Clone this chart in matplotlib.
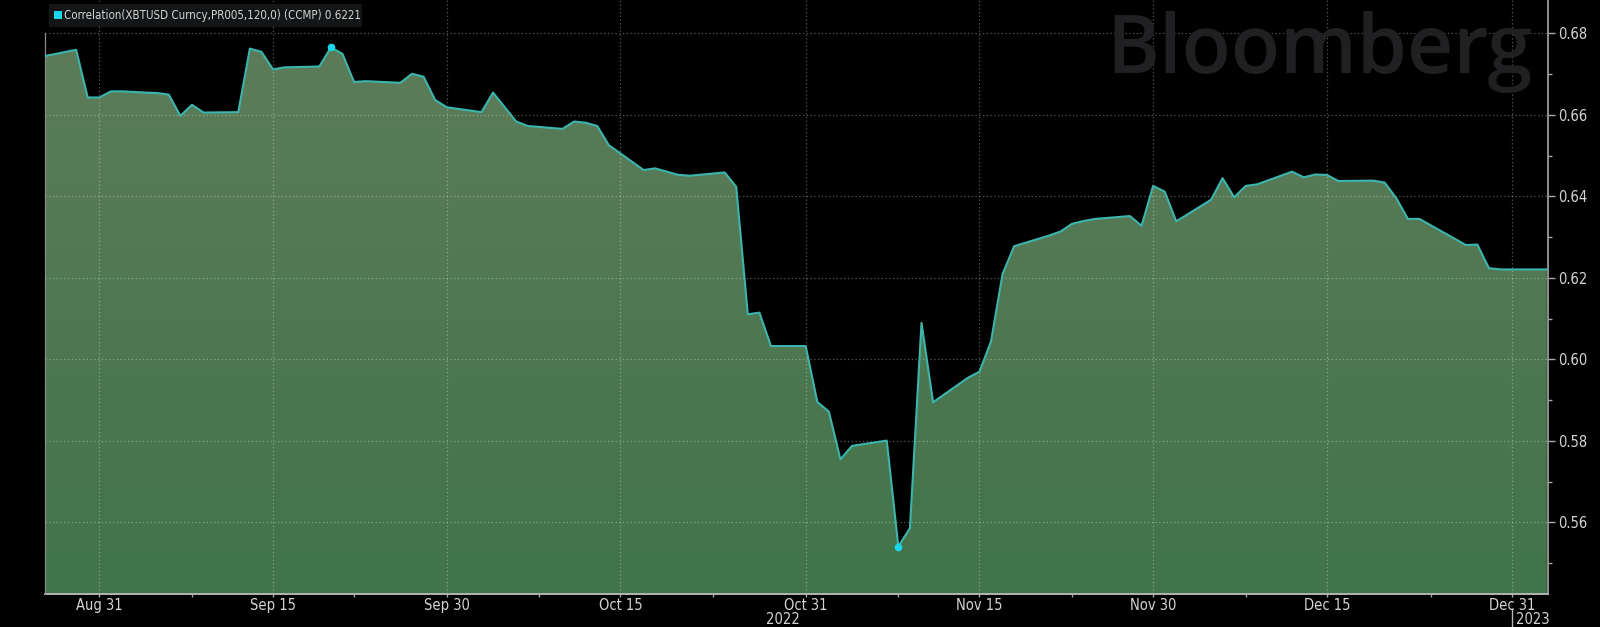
import matplotlib
matplotlib.use("Agg")
import matplotlib.pyplot as plt
import matplotlib.dates as mdates
import matplotlib.transforms as mtransforms
from matplotlib.patches import Rectangle
from matplotlib.colors import LinearSegmentedColormap
from matplotlib.ticker import MultipleLocator
import numpy as np
import pandas as pd

# ---------------- data ----------------
dates = [
    "2022-08-26", "2022-08-29", "2022-08-30", "2022-08-31", "2022-09-01", "2022-09-02",
    "2022-09-04", "2022-09-05", "2022-09-06", "2022-09-07", "2022-09-08", "2022-09-09",
    "2022-09-12", "2022-09-13", "2022-09-14", "2022-09-15", "2022-09-16", "2022-09-19",
    "2022-09-20", "2022-09-21", "2022-09-22", "2022-09-23", "2022-09-26", "2022-09-27",
    "2022-09-28", "2022-09-29", "2022-09-30", "2022-10-03", "2022-10-04", "2022-10-06",
    "2022-10-07", "2022-10-10", "2022-10-11", "2022-10-12", "2022-10-13", "2022-10-14",
    "2022-10-17", "2022-10-18", "2022-10-19", "2022-10-20", "2022-10-21", "2022-10-24",
    "2022-10-25", "2022-10-26", "2022-10-27", "2022-10-28", "2022-10-31", "2022-11-01",
    "2022-11-02", "2022-11-03", "2022-11-04", "2022-11-07", "2022-11-08", "2022-11-09",
    "2022-11-10", "2022-11-11", "2022-11-14", "2022-11-15", "2022-11-16", "2022-11-17",
    "2022-11-18", "2022-11-21", "2022-11-22", "2022-11-23", "2022-11-24", "2022-11-25",
    "2022-11-28", "2022-11-29", "2022-11-30", "2022-12-01", "2022-12-02", "2022-12-05",
    "2022-12-06", "2022-12-07", "2022-12-08", "2022-12-09", "2022-12-12", "2022-12-13",
    "2022-12-14", "2022-12-15", "2022-12-16", "2022-12-19", "2022-12-20", "2022-12-21",
    "2022-12-22", "2022-12-23", "2022-12-27", "2022-12-28", "2022-12-29", "2022-12-30",
    "2023-01-03",
]
values = [
    0.6743, 0.6760, 0.6643, 0.6643, 0.6658, 0.6658,
    0.6655, 0.6654, 0.6650, 0.6598, 0.6625, 0.6606,
    0.6607, 0.6763, 0.6755, 0.6712, 0.6717, 0.6719,
    0.6766, 0.6750, 0.6681, 0.6683, 0.6679, 0.6701,
    0.6694, 0.6637, 0.6619, 0.6607, 0.6655, 0.6584,
    0.6573, 0.6566, 0.6584, 0.6581, 0.6573, 0.6526,
    0.6465, 0.6469, 0.6461, 0.6453, 0.6451, 0.6459,
    0.6424, 0.6111, 0.6115, 0.6033, 0.6033, 0.5896,
    0.5872, 0.5755, 0.5788, 0.5801, 0.5541, 0.5586,
    0.6090, 0.5895, 0.5955, 0.5970, 0.6044, 0.6210,
    0.6278, 0.6304, 0.6314, 0.6333, 0.6340, 0.6345,
    0.6352, 0.6328, 0.6426, 0.6412, 0.6339, 0.6392,
    0.6445, 0.6398, 0.6426, 0.6430, 0.6461, 0.6447,
    0.6454, 0.6453, 0.6438, 0.6439, 0.6434, 0.6396,
    0.6345, 0.6345, 0.6281, 0.6282, 0.6224, 0.6221,
    0.6221,
]
tick_dates = ["2022-08-31", "2022-09-15", "2022-09-30", "2022-10-15", "2022-10-31",
              "2022-11-15", "2022-11-30", "2022-12-15", "2022-12-31"]
tick_labels = ["Aug 31", "Sep 15", "Sep 30", "Oct 15", "Oct 31",
               "Nov 15", "Nov 30", "Dec 15", "Dec 31"]
minor_tick_dates = ["2022-09-08", "2022-09-22", "2022-10-08", "2022-10-23",
                    "2022-11-08", "2022-11-23", "2022-12-08", "2022-12-24"]
y_ticks = [0.56, 0.58, 0.60, 0.62, 0.64, 0.66, 0.68]
year_labels = ["2022", "2023"]
year_label_dates = ["2022-10-29", "2023-01-02"]
legend_label = "Correlation(XBTUSD Curncy,PR005,120,0) (CCMP) 0.6221"
watermark = "Bloomberg"

# ---------------- style ----------------
W, H = 1600, 627
BG = "#000000"
LINE = "#3bb5ad"
MARK = "#19d6ec"
TXT = "#d4d4d4"
FONT = dict(family="DejaVu Sans", stretch="condensed")

fig = plt.figure(figsize=(W / 100, H / 100), dpi=100, facecolor=BG)
ax_l, ax_r, ax_b, ax_t = 45, 1548, 594, 0
ax = fig.add_axes([ax_l / W, (H - ax_b) / H, (ax_r - ax_l) / W, (ax_b - ax_t) / H])
ax.set_facecolor(BG)

x = mdates.date2num(pd.to_datetime(dates))
y = np.array(values)

aug31 = mdates.date2num(pd.Timestamp("2022-08-31"))
xlim = (aug31 - 4.69, aug31 + 125.1)
ylim = (0.54245, 0.68822)

# gradient fill clipped to area under curve
poly = ax.fill_between(x, y, ylim[0], facecolor="none", edgecolor="none")
clip_path = poly.get_paths()[0]
cmap = LinearSegmentedColormap.from_list("g", ["#41744a", "#5c7c59"])
grad = np.linspace(0, 1, 256).reshape(-1, 1)
img = ax.imshow(grad, extent=[xlim[0], xlim[1], ylim[0], 0.6770], aspect="auto",
                origin="lower", cmap=cmap, zorder=1, interpolation="bilinear")
img.set_clip_path(clip_path, transform=ax.transData)

ax.plot(x, y, color=LINE, lw=1.5, zorder=4, solid_joinstyle="round")
imax, imin = int(np.argmax(y)), int(np.argmin(y))
ax.plot([x[imax], x[imin]], [y[imax], y[imin]], ls="none", marker="o",
        ms=4.5, color=MARK, zorder=5)

ax.set_xlim(*xlim)
ax.set_ylim(*ylim)

# grid
ax.set_axisbelow(False)
ax.grid(which="major", color="white", alpha=0.34, lw=0.9, linestyle=(0, (1, 2)))

# axes / ticks
for s in ["top", "left"]:
    ax.spines[s].set_visible(False)
ax.spines["bottom"].set_color("#b4b4b4")
ax.spines["bottom"].set_linewidth(1.4)
ax.spines["right"].set_color("#a8a8a8")
ax.spines["right"].set_linewidth(1.2)
ax.plot([xlim[0], xlim[0]], [ylim[0], 0.68], color="#8a8a8a", lw=0.9,
        clip_on=False, zorder=3)

ax.yaxis.tick_right()
ax.set_yticks(y_ticks)
ax.set_yticklabels([f"{v:.2f}" for v in y_ticks])
ax.yaxis.set_minor_locator(MultipleLocator(0.01))
ax.tick_params(axis="y", which="major", length=5, width=1, color="#a8a8a8",
               labelcolor=TXT, labelsize=10.5, pad=2)
ax.tick_params(axis="y", which="minor", length=3, width=1, color="#a8a8a8")
for lab in ax.get_yticklabels():
    lab.set(**FONT)

ax.set_xticks(mdates.date2num(pd.to_datetime(tick_dates)))
ax.set_xticklabels(tick_labels)
ax.set_xticks(mdates.date2num(pd.to_datetime(minor_tick_dates)), minor=True)
ax.tick_params(axis="x", which="major", length=2, width=1, color="#a8a8a8",
               labelcolor=TXT, labelsize=10.5, pad=1)
ax.tick_params(axis="x", which="minor", length=2, width=1, color="#a8a8a8")
for lab in ax.get_xticklabels():
    lab.set(**FONT)

# year labels
trans = mtransforms.blended_transform_factory(ax.transData, fig.transFigure)
ax.text(mdates.date2num(pd.Timestamp(year_label_dates[0])), 1 - 619 / H, year_labels[0],
        transform=trans, ha="center", va="center", color=TXT, fontsize=10.5, **FONT)
sep_x = mdates.date2num(pd.Timestamp("2022-12-31"))
ax.plot([sep_x, sep_x], [1 - 609 / H, 0], transform=trans, color="#b4b4b4",
        lw=1, clip_on=False)
ax.text(sep_x + 0.35, 1 - 619 / H, year_labels[1], transform=trans, ha="left",
        va="center", color=TXT, fontsize=10.5, **FONT)

# watermark
fig.text(1106 / W, 1 - 73 / H, watermark, ha="left", va="baseline",
         color="#202022", fontsize=58, family=["Open Sans", "DejaVu Sans"],
         weight="semibold", zorder=0)

# legend box
fig.add_artist(Rectangle((49 / W, 1 - 27 / H), (362 - 49) / W, 23 / H,
                         transform=fig.transFigure, facecolor="#131517",
                         edgecolor="none", zorder=10))
fig.add_artist(Rectangle((54 / W, 1 - 19 / H), 8 / W, 8 / H,
                         transform=fig.transFigure, facecolor=MARK,
                         edgecolor="none", zorder=11))
fig.text(64 / W, 1 - 15.5 / H, legend_label, ha="left", va="center",
         color=TXT, fontsize=8.3, zorder=12, **FONT)

fig.savefig("out.png", dpi=100, facecolor=BG)
